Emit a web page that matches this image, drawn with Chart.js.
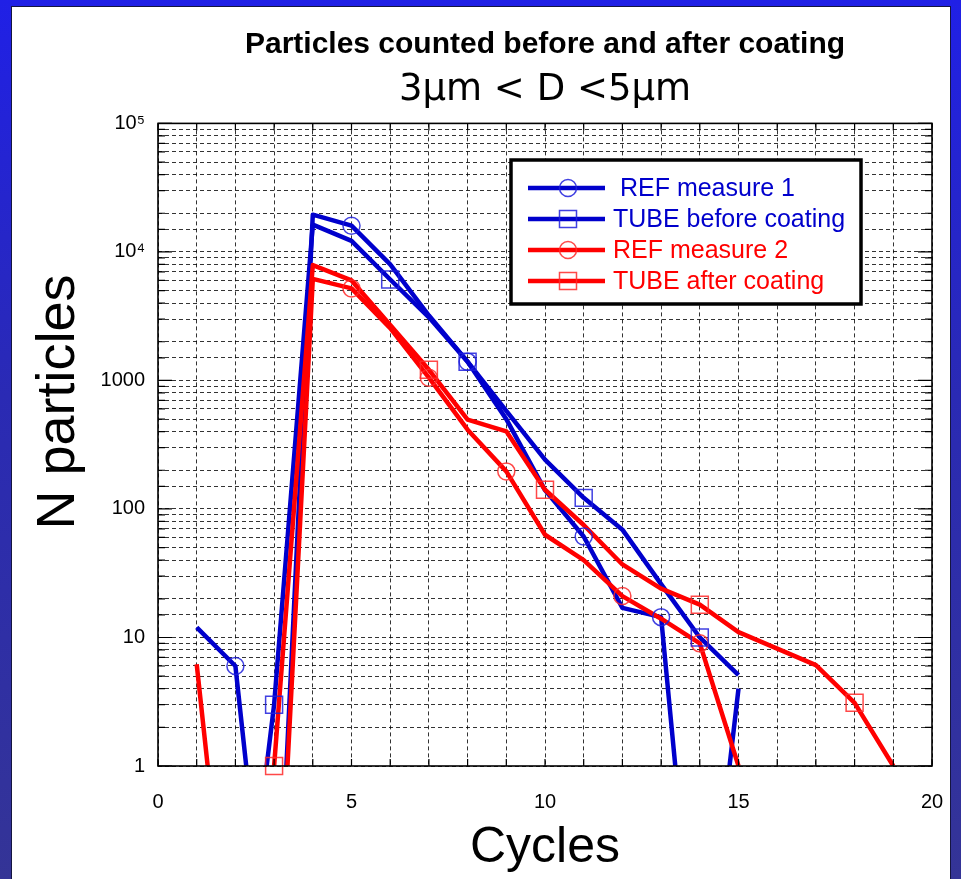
<!DOCTYPE html>
<html>
<head>
<meta charset="utf-8">
<script src="https://cdn.jsdelivr.net/npm/chart.js@4.4.1/dist/chart.umd.min.js"></script>
<style>
  html, body { margin: 0; padding: 0; }
  body {
    width: 961px; height: 879px; position: relative; overflow: hidden;
    background: linear-gradient(#2020e6, #2a2ab4 45%, #343496);
  }
  #panel {
    position: absolute; left: 12px; top: 7px; width: 938px; height: 872px;
    background: #fff; box-shadow: 0 0 0 1px #151540;
  }
  #chart { position: absolute; left: 0; top: 0; }
</style>
</head>
<body>
<div id="panel"></div>
<canvas id="chart" width="961" height="879"></canvas>
<script>
// values (0.01 = value far below the axis, line runs off the bottom)
const ref1Cycles = [1, 2, 3, 4, 5, 6, 7, 8, 9, 10, 11, 12, 13, 14, 15];
const ref1Values = [12, 6, 0.01, 19500, 16000, 8000, 3200, 1400, 500, 140, 61, 17, 14.4, 0.01, 4];
const ref1Marks = [2, 5, 8, 11, 13];

const tubeBeforeCycles = [2, 3, 4, 5, 6, 7, 8, 9, 10, 11, 12, 13, 14, 15];
const tubeBeforeValues = [0.01, 3, 16300, 12200, 6100, 3100, 1400, 580, 242, 122, 69, 26, 10, 5.1];
const tubeBeforeMarks = [3, 6, 8, 11, 14];

const ref2Cycles = [1, 2, 3, 4, 5, 6, 7, 8, 9, 10, 11, 12, 13, 14, 15];
const ref2Values = [6.2, 0.01, 0.01, 6170, 5200, 2550, 1050, 414, 196, 63, 40, 21, 14, 9, 1];
const ref2Marks = [5, 7, 9, 12, 14];

const tubeAfterCycles = [3, 4, 5, 6, 7, 8, 9, 10, 11, 12, 13, 14, 15, 16, 17, 18, 19];
const tubeAfterValues = [1, 7900, 6000, 2700, 1210, 495, 402, 141, 75, 37, 24, 18, 11, 8.2, 6.1, 3.1, 1];
const tubeAfterMarks = [3, 7, 10, 14, 18];

const BLUE = 'rgb(0,0,204)';
const RED = 'rgb(255,0,0)';

const series = [
  { label: ' REF measure 1', xs: ref1Cycles, ys: ref1Values, marks: ref1Marks, color: BLUE, mark: 'rgba(30,30,220,0.85)', style: 'circle' },
  { label: 'TUBE before coating', xs: tubeBeforeCycles, ys: tubeBeforeValues, marks: tubeBeforeMarks, color: BLUE, mark: 'rgba(30,30,220,0.85)', style: 'rect' },
  { label: 'REF measure 2', xs: ref2Cycles, ys: ref2Values, marks: ref2Marks, color: RED, mark: 'rgba(255,40,40,0.85)', style: 'circle' },
  { label: 'TUBE after coating', xs: tubeAfterCycles, ys: tubeAfterValues, marks: tubeAfterMarks, color: RED, mark: 'rgba(255,40,40,0.85)', style: 'rect' }
];

const markRadius = { circle: 8.5, rect: 12 };

const datasets = [];
series.forEach((s, i) => {
  const pts = s.xs.map((x, k) => ({ x: x, y: s.ys[k] }));
  datasets.push({
    label: s.label,
    data: pts,
    borderColor: s.color,
    borderWidth: 4.5,
    borderJoinStyle: 'round',
    pointRadius: 0,
    order: 10 - i
  });
  datasets.push({
    label: s.label + ' markers',
    data: pts.filter(p => s.marks.includes(p.x)),
    showLine: false,
    pointStyle: s.style,
    pointRadius: markRadius[s.style],
    pointBorderWidth: 1.5,
    pointBorderColor: s.mark,
    pointBackgroundColor: 'rgba(0,0,0,0)',
    clip: false,
    order: 0
  });
});

function isDecade(v) {
  const e = Math.log10(v);
  return Math.abs(e - Math.round(e)) < 1e-9;
}

const frameAndTicks = {
  id: 'frameAndTicks',
  afterDatasetsDraw(chart) {
    const { ctx, chartArea: a, scales } = chart;
    ctx.save();
    ctx.strokeStyle = '#000';
    ctx.lineWidth = 1.2;
    ctx.beginPath();
    scales.y.ticks.forEach(t => {
      const py = scales.y.getPixelForValue(t.value);
      const len = isDecade(t.value) ? 14 : 7;
      ctx.moveTo(a.left, py); ctx.lineTo(a.left + len, py);
      ctx.moveTo(a.right, py); ctx.lineTo(a.right - len, py);
    });
    scales.x.ticks.forEach(t => {
      const px = scales.x.getPixelForValue(t.value);
      ctx.moveTo(px, a.bottom); ctx.lineTo(px, a.bottom - 7);
      ctx.moveTo(px, a.top); ctx.lineTo(px, a.top + 7);
    });
    ctx.stroke();
    ctx.lineWidth = 1.6;
    ctx.strokeRect(a.left, a.top, a.right - a.left, a.bottom - a.top);
    ctx.restore();
  }
};

const boxLegend = {
  id: 'boxLegend',
  afterDraw(chart) {
    const { ctx } = chart;
    ctx.save();
    ctx.fillStyle = '#fff';
    ctx.fillRect(511, 160, 350, 144);
    ctx.lineWidth = 3.5;
    ctx.strokeStyle = '#000';
    ctx.strokeRect(511, 160, 350, 144);
    ctx.font = '25px "Liberation Sans", Arial, sans-serif';
    ctx.textBaseline = 'middle';
    series.forEach((s, i) => {
      const y = 188 + i * 31;
      ctx.strokeStyle = s.color;
      ctx.lineWidth = 4.5;
      ctx.beginPath();
      ctx.moveTo(528, y); ctx.lineTo(605, y);
      ctx.stroke();
      ctx.lineWidth = 1.5;
      ctx.strokeStyle = s.mark;
      ctx.beginPath();
      if (s.style === 'circle') {
        ctx.arc(568, y, markRadius.circle, 0, Math.PI * 2);
      } else {
        ctx.rect(559.5, y - 8.5, 17, 17);
      }
      ctx.stroke();
      ctx.fillStyle = s.color;
      ctx.fillText(s.label, 613, y + 1);
    });
    ctx.restore();
  }
};

const yTitle = {
  id: 'yTitle',
  afterDraw(chart) {
    const { ctx } = chart;
    ctx.save();
    ctx.translate(59, 402);
    ctx.rotate(-Math.PI / 2);
    ctx.font = '54px "Liberation Sans", Arial, sans-serif';
    ctx.fillStyle = '#000';
    ctx.textAlign = 'center';
    ctx.textBaseline = 'middle';
    ctx.fillText('N particles', 0, 0);
    ctx.restore();
  }
};

new Chart(document.getElementById('chart'), {
  type: 'line',
  data: { datasets },
  options: {
    responsive: false,
    animation: false,
    devicePixelRatio: 1,
    events: [],
    layout: { padding: { left: 0, right: 29, top: 0, bottom: 0 } },
    plugins: {
      legend: { display: false },
      tooltip: { enabled: false },
      title: {
        display: true,
        fullSize: false,
        text: 'Particles counted before and after coating',
        color: '#000',
        font: { family: '"Liberation Sans", Arial, sans-serif', size: 30, weight: 'bold' },
        padding: { top: 27, bottom: 5 }
      },
      subtitle: {
        display: true,
        fullSize: false,
        text: '3µm < D <5µm',
        color: '#000',
        font: { family: '"DejaVu Sans", sans-serif', size: 37, weight: 'normal' },
        padding: { top: 0, bottom: 11 }
      }
    },
    scales: {
      x: {
        type: 'linear',
        min: 0,
        max: 20,
        afterFit(scale) {
          scale.height = 113;
          scale.paddingLeft = 12;
          scale.paddingRight = 12;
        },
        border: { display: false, dash: [4, 3] },
        grid: { color: 'rgba(0,0,0,0.8)', lineWidth: 1, drawTicks: false },
        ticks: {
          stepSize: 1,
          autoSkip: false,
          maxRotation: 0,
          padding: 24,
          color: '#000',
          font: { family: '"Liberation Sans", Arial, sans-serif', size: 20 },
          callback: v => (v % 5 === 0 ? String(v) : '')
        },
        title: {
          display: true,
          text: 'Cycles',
          color: '#000',
          font: { family: '"Liberation Sans", Arial, sans-serif', size: 50 },
          padding: { top: 0, bottom: 1 }
        }
      },
      y: {
        type: 'logarithmic',
        min: 1,
        max: 100000,
        afterFit(scale) { scale.width = 158; },
        border: { display: false, dash: [4, 3] },
        grid: { color: 'rgba(0,0,0,0.8)', lineWidth: 1, drawTicks: false },
        ticks: {
          autoSkip: false,
          padding: 13,
          color: '#000',
          font: { family: '"Liberation Sans", Arial, sans-serif', size: 20 },
          callback: v => {
            if (!isDecade(v)) return '';
            const e = Math.round(Math.log10(v));
            if (e === 4) return '10⁴';
            if (e === 5) return '10⁵';
            return String(Math.round(v));
          }
        }
      }
    }
  },
  plugins: [frameAndTicks, boxLegend, yTitle]
});
</script>
</body>
</html>
